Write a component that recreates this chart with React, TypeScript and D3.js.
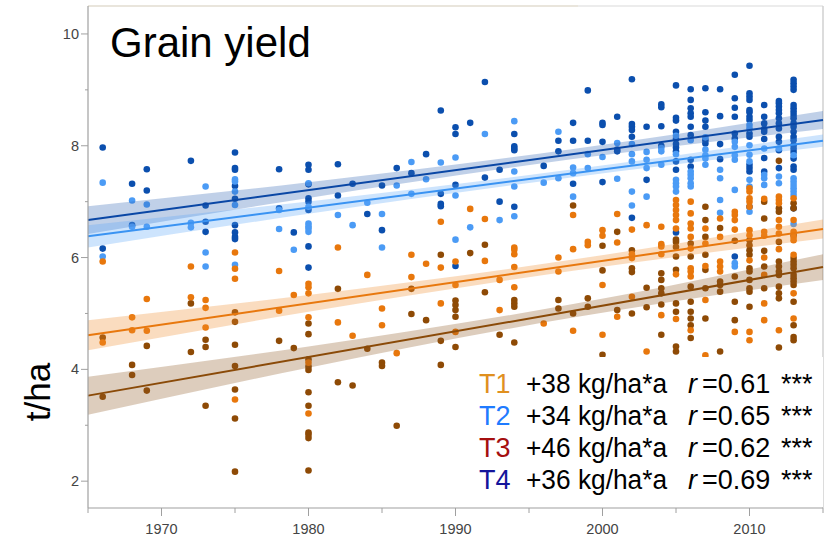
import React from 'react';
import * as d3 from 'd3';

// ---- data ----
const T4_POINTS: [number, number[]][] = [
  [1966, [7.97, 6.16]], [1968, [7.32, 6.58]], [1969, [7.58, 7.2]], [1972, [7.73]], [1973, [6.93, 6.64, 6.46]],
  [1975, [7.88, 7.6, 7.57, 7.28, 7.05, 6.58, 6.45, 6.37, 6.33]], [1978, [7.58, 6.88]], [1979, [6.45]],
  [1980, [7.66, 7.57, 7.31, 7.06, 7.0, 6.85, 6.2, 5.82]], [1982, [7.67, 7.11]], [1983, [7.32]], [1984, [6.78]],
  [1985, [7.29, 6.49]], [1986, [7.6]], [1987, [7.51]], [1988, [7.85]], [1989, [8.63, 7.14, 6.96, 6.92]],
  [1990, [8.33, 8.21, 7.3, 5.85]], [1991, [8.41]], [1992, [9.14, 7.43]], [1993, [7.57, 7.0]],
  [1994, [8.21, 7.99, 7.95, 7.92, 6.91]], [1996, [7.64]], [1997, [8.09, 7.9]], [1998, [8.41, 8.09, 7.32]],
  [1999, [8.99, 8.09]], [2000, [8.41, 8.37, 8.07, 7.35]], [2001, [8.52, 7.93, 7.9]],
  [2002, [9.19, 8.39, 8.34, 8.28, 8.16, 6.71]], [2003, [8.34, 7.39]], [2004, [8.74, 8.69, 8.35, 8.0]],
  [2005, [9.08, 8.5, 8.45, 8.25, 8.12, 8.03, 7.97, 7.9, 7.72, 7.57, 6.45]],
  [2006, [9.01, 8.82, 8.67, 8.58, 8.52, 8.34, 8.19, 7.75, 7.63]],
  [2007, [9.03, 8.6, 8.45, 8.34, 8.1, 8.04]], [2008, [9.01, 8.53, 8.03, 7.76]],
  [2009, [9.27, 8.85, 8.68, 8.52, 8.22, 8.13, 6.02]],
  [2010, [9.43, 8.94, 8.88, 8.82, 8.64, 8.6, 8.52, 8.46, 8.22, 8.16, 7.66, 7.6, 7.54, 6.91]],
  [2011, [8.73, 8.52, 8.4, 8.3, 8.25, 8.12, 7.78, 7.54]],
  [2012, [8.8, 8.76, 8.7, 8.64, 8.58, 8.49, 8.4, 8.31, 8.16, 8.07, 7.92, 7.6]],
  [2013, [9.18, 9.12, 9.06, 9.0, 8.73, 8.67, 8.61, 8.55, 8.49, 8.4, 8.34, 8.25, 8.16, 8.1, 8.01, 7.95, 7.89, 7.77, 7.63, 7.57, 6.88]],
];

const T2_POINTS: [number, number[]][] = [
  [1966, [7.34, 6.02]], [1968, [7.02, 6.55]], [1969, [6.95, 6.55]], [1972, [6.62, 6.54]], [1973, [7.27, 6.09, 5.84]],
  [1975, [7.4, 7.36, 7.18, 6.94, 5.87]], [1978, [6.85, 6.51]], [1979, [6.14]],
  [1980, [7.33, 6.91, 6.61, 6.56, 6.52, 6.46]], [1982, [6.76]], [1983, [6.58]], [1984, [6.98]],
  [1985, [6.78, 6.18]], [1986, [7.29]], [1987, [7.71, 7.14]], [1988, [7.4]], [1989, [7.7]],
  [1990, [7.79, 7.11, 6.32]], [1991, [6.54]], [1992, [8.21]], [1993, [6.67]], [1994, [8.44, 7.54, 7.27, 6.74]],
  [1996, [7.34]], [1997, [8.25, 7.42]], [1998, [7.61, 7.51, 7.09]], [1999, [7.85, 7.6]], [2000, [7.8]],
  [2001, [8.05, 7.41]], [2002, [8.03, 7.85, 7.72, 7.18, 6.93]], [2003, [7.89, 7.75, 7.6, 7.09]],
  [2004, [7.96, 7.9, 7.66]], [2005, [8.18, 7.85, 7.39, 7.33, 7.27, 7.18]],
  [2006, [8.1, 7.54, 7.48, 7.42, 7.33, 7.27]], [2007, [8.15, 7.93, 7.83, 7.77, 7.66]],
  [2008, [7.57, 7.42, 7.03, 6.8]], [2009, [8.07, 7.98, 7.83, 7.75, 7.21, 5.9, 5.84]],
  [2010, [8.37, 8.31, 8.01, 7.84, 7.72, 7.39, 7.27, 6.82]], [2011, [7.95, 7.48, 7.42, 7.3]],
  [2012, [7.95, 7.45, 7.33]], [2013, [7.83, 7.42, 7.36, 7.3, 7.24, 7.18, 7.12, 6.6]],
];

const T1_POINTS: [number, number[]][] = [
  [1966, [5.93, 4.48]], [1968, [4.93, 4.7]], [1969, [5.26, 4.69]], [1972, [5.84, 5.29]], [1973, [5.24, 5.1, 4.75]],
  [1975, [6.09, 5.8, 5.62, 3.46]], [1978, [5.76, 5.05]], [1979, [5.33]],
  [1980, [5.53, 5.47, 5.36, 4.93, 4.12, 3.21]], [1982, [6.18, 4.84]], [1983, [4.6]], [1984, [5.69]],
  [1985, [5.09, 4.79]], [1986, [4.29]], [1987, [6.05, 5.65]], [1988, [5.89]], [1989, [6.64, 5.82, 5.18]],
  [1990, [5.93, 5.51, 4.67]], [1991, [6.87]], [1992, [6.69, 5.94]], [1993, [5.6, 5.06]],
  [1994, [6.18, 6.14, 6.06, 5.83, 5.47]], [1996, [4.82]], [1997, [6.0, 5.75]], [1998, [6.76, 6.15, 4.69]],
  [1999, [6.28, 6.22]], [2000, [6.49, 6.39, 5.51, 4.62]], [2001, [6.78, 6.27, 4.94]],
  [2002, [6.5, 6.06, 5.99, 5.3]], [2003, [6.58, 4.32]], [2004, [6.55, 6.24, 6.2, 6.06, 4.97]],
  [2005, [7.03, 6.94, 6.85, 6.76, 6.67, 6.52, 5.7, 4.9]],
  [2006, [7.0, 6.79, 6.61, 6.52, 6.37, 6.16, 5.81, 5.75, 5.66, 4.7]],
  [2007, [6.52, 6.25, 5.85, 5.24, 4.25]], [2008, [6.7, 6.37, 5.93, 5.84, 5.75]],
  [2009, [6.82, 6.76, 6.67, 6.5, 4.67]], [2010, [7.24, 7.18, 7.06, 7.0, 6.91, 6.49, 6.4, 5.95, 4.67, 4.52]],
  [2011, [7.05, 6.46, 6.39, 6.0, 5.69, 5.18, 4.88]], [2012, [7.09, 7.03, 6.97, 6.67, 6.55, 6.43, 6.15, 4.7]],
  [2013, [7.06, 6.67, 6.46, 6.37, 6.31, 6.05, 5.36, 4.91]],
];

const T3_POINTS: [number, number[]][] = [
  [1966, [4.57, 3.51]], [1968, [4.08, 3.9]], [1969, [4.42, 3.62]], [1972, [5.18, 4.31]], [1973, [4.53, 4.4, 3.35]],
  [1975, [5.02, 4.85, 4.44, 4.06, 3.64, 3.12, 2.17]], [1978, [4.51]], [1979, [4.38]],
  [1980, [4.82, 4.63, 4.18, 4.05, 3.99, 3.59, 3.35, 2.87, 2.83, 2.77, 2.19]], [1982, [5.44, 3.77]], [1983, [3.71]],
  [1984, [4.37]], [1985, [4.12, 4.06]], [1986, [2.99]], [1987, [5.44, 4.99]], [1988, [4.88]],
  [1989, [6.05, 4.51, 4.08]], [1990, [5.23, 5.15, 5.06, 4.94, 4.4]], [1991, [6.08]], [1992, [6.23, 5.38]],
  [1993, [4.62]], [1994, [5.24, 5.18, 5.12, 4.48]], [1997, [5.24, 5.09]], [1998, [6.93, 5.0]],
  [1999, [5.27, 5.12]], [2000, [6.21, 5.77, 4.26]], [2001, [6.46, 5.06]], [2002, [6.13, 5.81, 5.74, 5.0]],
  [2003, [5.46, 5.11]], [2004, [5.72, 5.6, 5.45, 5.36, 5.16, 4.62]],
  [2005, [6.32, 6.28, 6.19, 6.02, 5.78, 5.18, 5.03, 4.41, 4.32]],
  [2006, [6.25, 6.02, 5.48, 5.21, 5.03, 4.91, 4.79, 4.56]],
  [2007, [6.91, 6.67, 6.37, 6.05, 5.78, 5.45, 4.91]], [2008, [6.53, 5.57, 5.51, 5.39, 4.32]],
  [2009, [6.3, 5.66, 5.21, 4.88]], [2010, [6.31, 6.22, 6.13, 6.05, 5.81, 5.75, 5.6, 5.45, 5.39, 5.12]],
  [2011, [7.0, 6.7, 6.12, 5.84, 5.45]],
  [2012, [7.73, 6.88, 6.82, 6.28, 5.93, 5.84, 5.75, 5.69, 5.48, 5.36, 5.27, 4.39]],
  [2013, [6.97, 6.88, 6.4, 5.99, 5.93, 5.87, 5.81, 5.69, 5.63, 5.57, 5.51, 5.21, 4.79, 4.58, 4.52]],
];

// regression line values at the ends of the x range (1965, 2015)
const LINE_YEARS = [1965, 2015];
const T1_LINE = [4.61, 6.51];
const T2_LINE = [6.38, 8.09];
const T3_LINE = [3.53, 5.83];
const T4_LINE = [6.67, 8.46];

// half-width of confidence band at given years
const BAND_YEARS = [1965, 1980, 1998, 2015];
const T1_BAND = [0.27, 0.15, 0.1, 0.17];
const T2_BAND = [0.2, 0.11, 0.07, 0.11];
const T3_BAND = [0.34, 0.19, 0.12, 0.23];
const T4_BAND = [0.25, 0.14, 0.09, 0.16];

const Y_TICKS = [2, 4, 6, 8, 10];
const Y_MINOR = [3, 5, 7, 9];
const X_TICKS = [1970, 1980, 1990, 2000, 2010];
const X_MINOR = [1965, 1975, 1985, 1995, 2005, 2015];

const LEGEND_LABELS = ['T1', 'T2', 'T3', 'T4'];
const LEGEND_RATES = ['+38 kg/ha*a', '+34 kg/ha*a', '+46 kg/ha*a', '+36 kg/ha*a'];
const LEGEND_R = ['=0.61', '=0.65', '=0.62', '=0.69'];

const FONT = 'Liberation Sans, Arial, Helvetica, sans-serif';

const SERIES = [
  { name: 'T4', pts: T4_POINTS, line: T4_LINE, band: T4_BAND, dot: '#0B4FAE', lineCol: '#0A47A5', bandCol: '#2E64B4' },
  { name: 'T2', pts: T2_POINTS, line: T2_LINE, band: T2_BAND, dot: '#4B9BF5', lineCol: '#3A93F2', bandCol: '#5AA5F8' },
  { name: 'T3', pts: T3_POINTS, line: T3_LINE, band: T3_BAND, dot: '#8E4A05', lineCol: '#8A4A08', bandCol: '#8E5A25' },
  { name: 'T1', pts: T1_POINTS, line: T1_LINE, band: T1_BAND, dot: '#E8770C', lineCol: '#E8780E', bandCol: '#EE8A2A' },
];
const LEGEND_COLORS = ['#E0901F', '#1F7BFF', '#A50F0F', '#14149B'];

export default function App() {
  const W = 825, H = 539;
  const x = d3.scaleLinear().domain([1965, 2015]).range([88, 823]);
  const y = d3.scaleLinear().domain([1.52, 10.5]).range([508, 6]);

  const lineVal = (l: number[], yr: number) =>
    l[0] + ((l[1] - l[0]) * (yr - LINE_YEARS[0])) / (LINE_YEARS[1] - LINE_YEARS[0]);

  const bandArea = (s: typeof SERIES[number]) => {
    const pts = BAND_YEARS.map((yr, i) => ({ yr, c: lineVal(s.line, yr), h: s.band[i] }));
    return d3
      .area<{ yr: number; c: number; h: number }>()
      .x((d) => x(d.yr))
      .y0((d) => y(d.c - d.h))
      .y1((d) => y(d.c + d.h))
      .curve(d3.curveMonotoneX)(pts) as string;
  };
  const linePath = (s: typeof SERIES[number]) =>
    d3
      .line<number>()
      .x((d) => x(d))
      .y((d, i) => y(s.line[i]))(LINE_YEARS) as string;

  return (
    <svg width={W} height={H} style={{ position: 'absolute', left: 0, top: 0, background: '#fff' }} fontFamily={FONT}>
      <rect x={0} y={0} width={W} height={H} fill="#fff" />
      {/* frame */}
      <line x1={88} x2={578} y1={6} y2={6} stroke="#e2ddd0" strokeWidth={1.5} />
      <line x1={578} x2={823} y1={6} y2={6} stroke="#e6e6e6" strokeWidth={1.5} />
      <line x1={823} x2={823} y1={6} y2={508} stroke="#d0d0d0" strokeWidth={1.5} />

      {/* points */}
      {SERIES.map((s) => (
        <g key={s.name} fill={s.dot}>
          {s.pts.flatMap(([yr, vals]) =>
            vals.map((v, j) => <circle key={`${yr}-${j}`} cx={x(yr)} cy={y(v)} r={3.3} />)
          )}
        </g>
      ))}

      {/* bands */}
      {SERIES.map((s) => (
        <path key={s.name + 'b'} d={bandArea(s)} fill={s.bandCol} fillOpacity={0.3} />
      ))}
      {/* lines */}
      {SERIES.map((s) => (
        <path key={s.name + 'l'} d={linePath(s)} stroke={s.lineCol} strokeWidth={2} fill="none" />
      ))}

      {/* legend background */}
      <rect x={458} y={357} width={365} height={150} fill="#fff" />

      {/* axes */}
      <line x1={88} x2={88} y1={6} y2={508} stroke="#a0a0a0" strokeWidth={1.2} />
      <line x1={88} x2={823} y1={508} y2={508} stroke="#a0a0a0" strokeWidth={1.2} />
      {Y_TICKS.map((t) => (
        <g key={'yt' + t}>
          <line x1={81} x2={88} y1={y(t)} y2={y(t)} stroke="#a0a0a0" />
          <text x={79} y={y(t) + 5} textAnchor="end" fontSize={14.5} fill="#444">
            {t}
          </text>
        </g>
      ))}
      {Y_MINOR.map((t) => (
        <line key={'ym' + t} x1={85} x2={88} y1={y(t)} y2={y(t)} stroke="#a0a0a0" />
      ))}
      {X_TICKS.map((t) => (
        <g key={'xt' + t}>
          <line x1={x(t)} x2={x(t)} y1={508} y2={516} stroke="#a0a0a0" />
          <text x={x(t)} y={534} textAnchor="middle" fontSize={14.5} fill="#444">
            {t}
          </text>
        </g>
      ))}
      {X_MINOR.map((t) => (
        <line key={'xm' + t} x1={x(t)} x2={x(t)} y1={508} y2={513} stroke="#a0a0a0" />
      ))}

      {/* title and axis label */}
      <text x={110} y={57} fontSize={42} fill="#000">
        Grain yield
      </text>
      <text transform="translate(50,392) rotate(-90)" textAnchor="middle" fontSize={35} fill="#000">
        t/ha
      </text>

      {/* legend */}
      {LEGEND_LABELS.map((lab, i) => {
        const by = 392.5 + i * 32.3;
        return (
          <g key={lab} fontSize={27}>
            <text x={479} y={by} fill={LEGEND_COLORS[i]}>
              {lab}
            </text>
            <text x={526} y={by} fill="#000" textLength={141} lengthAdjust="spacingAndGlyphs">
              {LEGEND_RATES[i]}
            </text>
            <text x={688} y={by} fill="#000" fontStyle="italic">
              r
            </text>
            <text x={702} y={by} fill="#000">
              {LEGEND_R[i]}
            </text>
            <text x={781} y={by} fill="#000">
              ***
            </text>
          </g>
        );
      })}
    </svg>
  );
}
